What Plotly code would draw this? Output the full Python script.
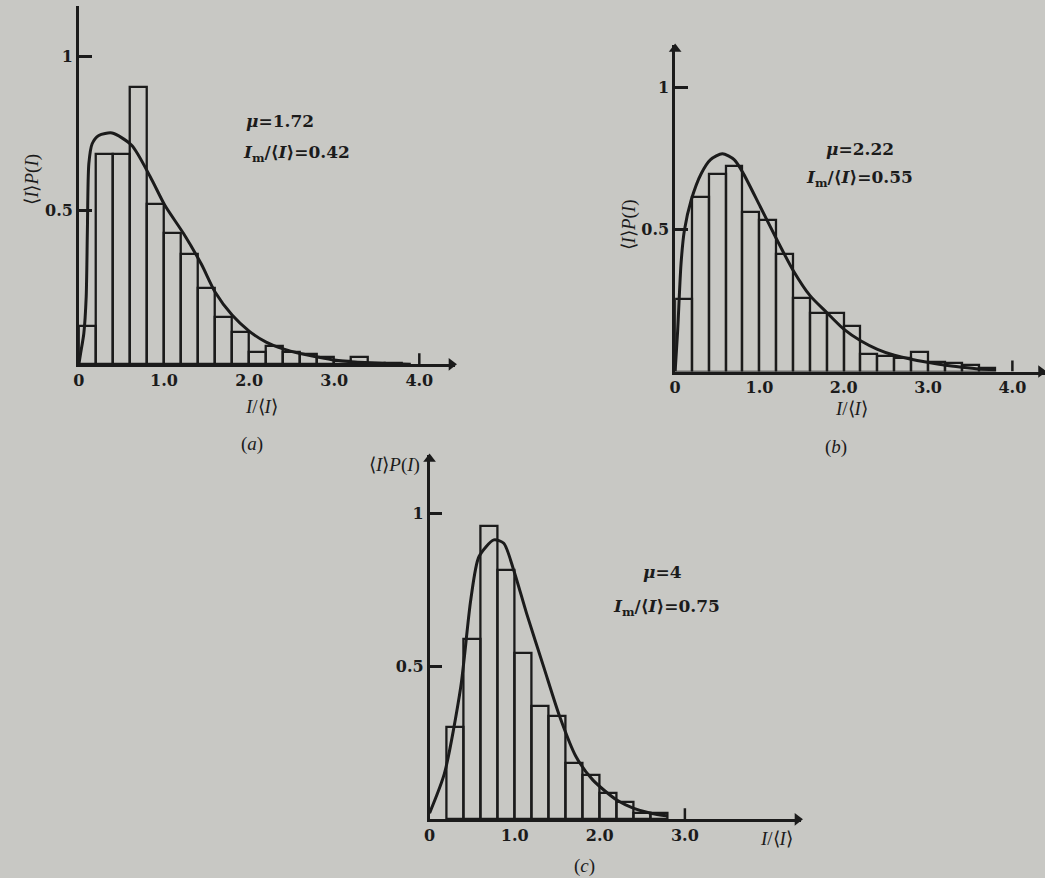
import plotly.graph_objects as go

# ---------------- data ----------------
bin_width = 0.2
a_bin_left = [0.0, 0.2, 0.4, 0.6, 0.8, 1.0, 1.2, 1.4, 1.6, 1.8, 2.0, 2.2, 2.4, 2.6, 2.8, 3.0, 3.2, 3.4, 3.6]
a_heights = [0.125, 0.684, 0.684, 0.902, 0.521, 0.426, 0.359, 0.247, 0.155, 0.104,
             0.041, 0.060, 0.041, 0.034, 0.025, 0.010, 0.025, 0.005, 0.005]
a_curve_x = [0, 0.02, 0.058, 0.086, 0.10, 0.117, 0.156, 0.234, 0.39, 0.62, 0.84, 1.01,
             1.23, 1.44, 1.6, 1.8, 2.0, 2.2, 2.4, 2.6, 2.8, 3.0, 3.2, 3.6, 3.9]
a_curve_y = [0, 0.035, 0.10, 0.22, 0.436, 0.652, 0.717, 0.744, 0.752, 0.712, 0.609, 0.517,
             0.425, 0.325, 0.235, 0.16, 0.108, 0.072, 0.050, 0.035, 0.024, 0.014, 0.008, 0.003, 0.0]

b_bin_left = [0.0, 0.2, 0.4, 0.6, 0.8, 1.0, 1.2, 1.4, 1.6, 1.8, 2.0, 2.2, 2.4, 2.6, 2.8, 3.0, 3.2, 3.4, 3.6]
b_heights = [0.256, 0.615, 0.696, 0.722, 0.562, 0.532, 0.412, 0.26, 0.205, 0.205,
             0.160, 0.061, 0.053, 0.046, 0.070, 0.032, 0.029, 0.022, 0.011]
b_curve_x = [0, 0.03, 0.07, 0.11, 0.19, 0.31, 0.42, 0.56, 0.70, 0.80, 1.01, 1.21, 1.4,
             1.6, 1.8, 2.0, 2.2, 2.4, 2.6, 2.8, 3.0, 3.2, 3.4, 3.6, 3.8]
b_curve_y = [0, 0.144, 0.38, 0.497, 0.603, 0.697, 0.746, 0.767, 0.746, 0.702, 0.58, 0.462,
             0.356, 0.267, 0.207, 0.149, 0.108, 0.078, 0.057, 0.043, 0.032, 0.022, 0.015, 0.009, 0.006]

c_bin_left = [0.2, 0.4, 0.6, 0.8, 1.0, 1.2, 1.4, 1.6, 1.8, 2.0, 2.2, 2.4, 2.6]
c_heights = [0.303, 0.588, 0.957, 0.816, 0.542, 0.370, 0.338, 0.184, 0.145, 0.085, 0.056, 0.022, 0.022]
c_curve_x = [0, 0.175, 0.367, 0.484, 0.58, 0.756, 0.872, 0.988, 1.14, 1.34, 1.53, 1.72,
             1.92, 2.2, 2.4, 2.6, 2.8]
c_curve_y = [0.02, 0.15, 0.433, 0.717, 0.858, 0.913, 0.902, 0.815, 0.673, 0.499, 0.335,
             0.205, 0.128, 0.063, 0.036, 0.02, 0.011]

x_tick_vals_ab = [0, 1, 2, 3, 4]
x_tick_text_ab = ["0", "1.0", "2.0", "3.0", "4.0"]
x_tick_vals_c = [0, 1, 2, 3]
x_tick_text_c = ["0", "1.0", "2.0", "3.0"]
y_tick_vals = [0.5, 1]
y_tick_text = ["0.5", "1"]
mu_labels = ["1.72", "2.22", "4"]
im_labels = ["0.42", "0.55", "0.75"]
panel_labels = ["(<i>a</i>)", "(<i>b</i>)", "(<i>c</i>)"]
end_tick = [4.0, 4.0, 3.0]

# ---------------- styling ----------------
W, H = 1045, 878
BG = "#c8c8c4"
INK = "#1b1b1b"
SERIF = "Liberation Serif"
BOLD = "DejaVu Serif"


def pxx(x):
    return x / W


def pyy(y):
    return 1 - y / H


fig = go.Figure()

panels = [
    dict(ax="", left=a_bin_left, h=a_heights, cx=a_curve_x, cy=a_curve_y),
    dict(ax="2", left=b_bin_left, h=b_heights, cx=b_curve_x, cy=b_curve_y),
    dict(ax="3", left=c_bin_left, h=c_heights, cx=c_curve_x, cy=c_curve_y),
]

for p in panels:
    xa = "x" + p["ax"]
    ya = "y" + p["ax"]
    fig.add_trace(go.Bar(
        x=[l + bin_width / 2 for l in p["left"]], y=p["h"], width=bin_width,
        marker=dict(color="rgba(0,0,0,0)", line=dict(color=INK, width=2.3)),
        xaxis=xa, yaxis=ya, showlegend=False, hoverinfo="skip"))
    fig.add_trace(go.Scatter(
        x=p["cx"], y=p["cy"], mode="lines",
        line=dict(color=INK, width=3, shape="spline", smoothing=0.7),
        xaxis=xa, yaxis=ya, showlegend=False, hoverinfo="skip"))

# geometry (pixels): origin x, x px per unit, right end, origin y, y px per unit, top
geo = [
    (73.3, 85.6, 452, 364.3, 307.6, 6),
    (673.0, 84.8, 1045, 371.5, 284.0, 45),
    (426.0, 85.6, 800, 819.3, 306.0, 455),
]
y_arrow = [False, True, True]

axis_common = dict(showgrid=False, zeroline=False, showline=True, linecolor=INK,
                   linewidth=2.5, fixedrange=True)
for i, (ox, sx, rx, oy, sy, ty) in enumerate(geo):
    suf = "" if i == 0 else str(i + 1)
    tv = x_tick_vals_c if i == 2 else x_tick_vals_ab
    tt = x_tick_text_c if i == 2 else x_tick_text_ab
    xmax = (rx - ox) / sx
    ymax = (oy - ty) / sy
    fig.layout["xaxis" + suf] = dict(
        domain=[pxx(ox), pxx(rx)], range=[0, xmax], anchor="y" + suf,
        tickvals=tv, ticktext=tt, ticks="", ticklabelstandoff=0,
        tickfont=dict(family=BOLD, size=16, color=INK, weight="bold"), **axis_common)
    fig.layout["yaxis" + suf] = dict(
        domain=[pyy(oy), pyy(ty)], range=[0, ymax], anchor="x" + suf,
        tickvals=y_tick_vals, ticktext=y_tick_text, ticks="inside", ticklen=13,
        tickwidth=2.5, tickcolor=INK, ticklabelstandoff=0,
        tickfont=dict(family=BOLD, size=16, color=INK, weight="bold"), **axis_common)
    xr = "x" + suf
    yr = "y" + suf
    # small tick mark at the end of the x scale
    fig.add_shape(type="line", xref=xr, yref=yr, x0=end_tick[i], x1=end_tick[i],
                  y0=0, y1=11 / sy, line=dict(color=INK, width=2.5))
    # arrowheads at the axis ends
    fig.add_trace(go.Scatter(
        x=[xmax - 4 / sx], y=[0], mode="markers", cliponaxis=False,
        marker=dict(symbol="triangle-right", size=11, color=INK),
        xaxis=xr, yaxis=yr, showlegend=False, hoverinfo="skip"))
    if y_arrow[i]:
        fig.add_trace(go.Scatter(
            x=[0], y=[ymax - 4 / sy], mode="markers", cliponaxis=False,
            marker=dict(symbol="triangle-up", size=11, color=INK),
            xaxis=xr, yaxis=yr, showlegend=False, hoverinfo="skip"))

ylabel = "⟨<i>I</i>⟩<i>P</i>(<i>I</i>)"
xlabel = "<i>I</i>/⟨<i>I</i>⟩"
tfont = dict(family=SERIF, size=19, color=INK)


def txt(x, y, s, font, xanchor="center", **kw):
    fig.add_annotation(xref="paper", yref="paper", x=pxx(x), y=pyy(y), text=s,
                       showarrow=False, font=font, xanchor=xanchor, yanchor="middle",
                       **kw)


# axis titles
txt(26, 179, ylabel, tfont, textangle=-90)
txt(627, 225, ylabel, tfont, textangle=-90)
txt(391, 465, ylabel, tfont)
txt(257, 406, xlabel, tfont)
txt(850, 408, xlabel, tfont)
txt(775, 838, xlabel, tfont)

# panel captions
txt(247, 444, panel_labels[0], tfont)
txt(835, 447, panel_labels[1], tfont)
txt(582, 866, panel_labels[2], tfont)

# parameter annotations
pfont = dict(family=BOLD, size=17, color=INK, weight="bold")
mu_pos = [(239, 121), (823, 149), (639, 572)]
im_pos = [(236, 153), (803, 178), (608, 607)]
for i in range(3):
    txt(mu_pos[i][0], mu_pos[i][1], "<i>μ</i>=" + mu_labels[i], pfont, xanchor="left")
    txt(im_pos[i][0], im_pos[i][1], "<i>I</i><sub>m</sub>/⟨<i>I</i>⟩=" + im_labels[i],
        pfont, xanchor="left")

fig.update_layout(width=W, height=H, margin=dict(l=0, r=0, t=0, b=0),
                  paper_bgcolor=BG, plot_bgcolor=BG, bargap=0, showlegend=False)

fig.write_html("out.html", config={"displayModeBar": False},
               post_script="document.body.style.margin='0px';"
                           "document.body.style.background='" + BG + "';"
                           "document.body.style.overflow='hidden';")
